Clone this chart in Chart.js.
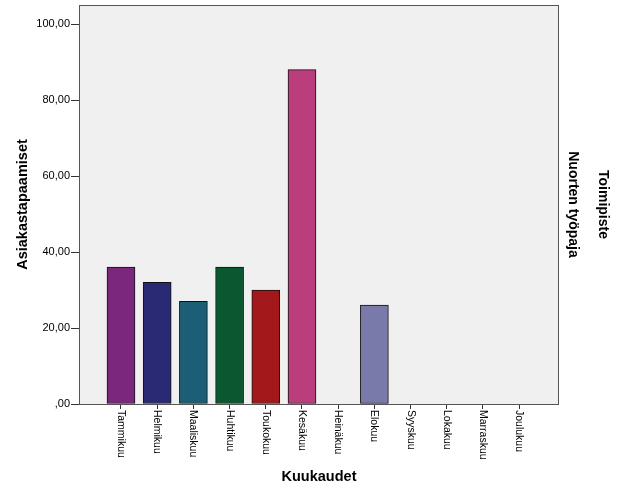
<!DOCTYPE html>
<html>
<head>
<meta charset="utf-8">
<script src="https://cdn.jsdelivr.net/npm/chart.js@4"></script>
<style>
  html, body { margin: 0; padding: 0; background: #fff; }
  #wrap { width: 626px; height: 501px; }
</style>
</head>
<body>
<div id="wrap"><canvas id="myChart" width="626" height="501"></canvas></div>
<script>
var months = ['Tammikuu', 'Helmikuu', 'Maaliskuu', 'Huhtikuu', 'Toukokuu', 'Kesäkuu',
    'Heinäkuu', 'Elokuu', 'Syyskuu', 'Lokakuu', 'Marraskuu', 'Joulukuu'];
var meetings = [36, 32, 27, 36, 30, 88, null, 26, null, null, null, null];
var barColors = ['#7B277D', '#292A73', '#1C5E75', '#0B572F', '#A3181B', '#BB3E7C',
    '#888888', '#7A7AAA', '#888888', '#888888', '#888888', '#888888'];
var legendTitle = 'Toimipiste';
var legendValue = 'Nuorten työpaja';

var FONT = "'Liberation Sans', Arial, sans-serif";

function formatFi(v) {
    if (v === 0) return ',00';
    return v.toFixed(2).replace('.', ',');
}

// plot background, frame, rotated month labels and the side legend text
var spssLook = {
    id: 'spssLook',
    beforeDraw: function (chart) {
        var a = chart.chartArea, ctx = chart.ctx;
        ctx.save();
        ctx.fillStyle = '#F0F0F0';
        ctx.fillRect(a.left, a.top, a.right - a.left, a.bottom - a.top);
        ctx.restore();
    },
    afterDraw: function (chart) {
        var a = chart.chartArea, ctx = chart.ctx;
        var xs = chart.scales.x;
        ctx.save();
        ctx.strokeStyle = '#555';
        ctx.lineWidth = 1;
        ctx.strokeRect(a.left + 0.5, a.top + 0.5, a.right - a.left - 1, a.bottom - a.top);

        ctx.fillStyle = '#000';
        ctx.font = '10.5px ' + FONT;
        ctx.textAlign = 'left';
        ctx.textBaseline = 'middle';
        xs.ticks.forEach(function (t) {
            var px = xs.getPixelForValue(t.value);
            ctx.save();
            ctx.translate(px, a.bottom + 6);
            ctx.rotate(Math.PI / 2);
            ctx.fillText(months[t.value], 0, 0);
            ctx.restore();
        });

        var midY = (a.top + a.bottom) / 2;
        ctx.textAlign = 'center';
        ctx.font = 'bold 14px ' + FONT;
        ctx.save();
        ctx.translate(a.right + 44, midY);
        ctx.rotate(Math.PI / 2);
        ctx.fillText(legendTitle, 0, 0);
        ctx.restore();
        ctx.save();
        ctx.translate(a.right + 14, midY);
        ctx.rotate(Math.PI / 2);
        ctx.fillText(legendValue, 0, 0);
        ctx.restore();
        ctx.restore();
    }
};

var points = months.map(function (m, i) { return { x: i, y: meetings[i] }; });

var ctx = document.getElementById('myChart').getContext('2d');
var myChart = new Chart(ctx, {
    type: 'bar',
    data: {
        datasets: [{
            label: legendValue,
            data: points,
            backgroundColor: barColors,
            borderColor: '#111',
            borderWidth: 1,
            borderSkipped: false,
            barThickness: 28
        }]
    },
    plugins: [spssLook],
    options: {
        responsive: false,
        animation: false,
        layout: { padding: { top: 5, right: 67, left: 0, bottom: 0 } },
        plugins: {
            legend: { display: false },
            tooltip: { enabled: false }
        },
        scales: {
            x: {
                type: 'linear',
                min: -1.16,
                max: 12.1,
                offset: false,
                border: { display: false },
                grid: { offset: false, drawOnChartArea: false, tickLength: 5, tickColor: '#333' },
                ticks: {
                    stepSize: 1,
                    includeBounds: false,
                    autoSkip: false,
                    color: 'rgba(0,0,0,0)',
                    callback: function (v) { return months[v] || ''; }
                },
                afterBuildTicks: function (scale) {
                    scale.ticks = scale.ticks.filter(function (t) {
                        return t.value >= 0 && t.value < months.length;
                    });
                },
                afterFit: function (scale) {
                    scale.height = 97;
                    scale.paddingLeft = 0;
                    scale.paddingRight = 0;
                },
                title: {
                    display: true,
                    text: 'Kuukaudet',
                    color: '#000',
                    font: { family: FONT, size: 14.5, weight: 'bold' },
                    padding: { top: 0, bottom: 15 }
                }
            },
            y: {
                min: 0,
                max: 105,
                border: { display: false },
                grid: { drawOnChartArea: false, tickLength: 8, tickColor: '#333' },
                ticks: {
                    stepSize: 20,
                    includeBounds: false,
                    padding: 1,
                    color: '#000',
                    font: { family: FONT, size: 11 },
                    callback: function (v) { return formatFi(v); }
                },
                afterFit: function (scale) {
                    scale.width = 79;
                    scale.paddingTop = 0;
                    scale.paddingBottom = 0;
                },
                title: {
                    display: true,
                    text: 'Asiakastapaamiset',
                    color: '#000',
                    font: { family: FONT, size: 14.5, weight: 'bold' },
                    padding: { top: 14, bottom: 0 }
                }
            }
        }
    }
});
</script>
</body>
</html>
